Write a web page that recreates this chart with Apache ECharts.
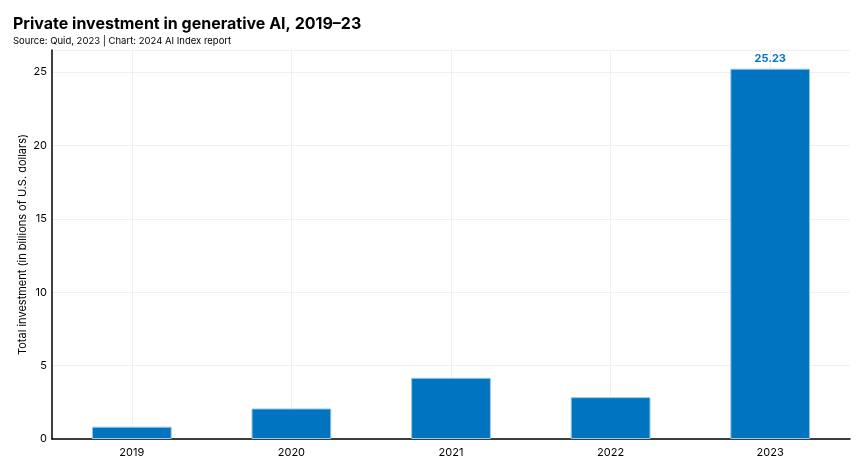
<!DOCTYPE html>
<html><head><meta charset="utf-8">
<script src="https://cdn.jsdelivr.net/npm/echarts@6/dist/echarts.min.js"></script>
<style>html,body{margin:0;padding:0;background:#fff}#c{width:866px;height:463px}</style>
</head><body><div id="c"></div>
<script>
const categories = ['2019', '2020', '2021', '2022', '2023'];
const investment = [0.84, 2.08, 4.17, 2.85, 25.23];
const yTicks = [0, 5, 10, 15, 20, 25];
const labelled = ['2023'];

const chart = echarts.init(document.getElementById('c'), null, {renderer: 'canvas'});
const font = 'Inter, "Liberation Sans", sans-serif';
chart.setOption({
  animation: false,
  textStyle: {fontFamily: font},
  title: {
    text: 'Private investment in generative AI, 2019–23',
    subtext: 'Source: Quid, 2023 | Chart: 2024 AI Index report',
    left: 8, top: 11, itemGap: 4,
    textStyle: {fontFamily: font, fontSize: 16, fontWeight: 'bold', color: '#000'},
    subtextStyle: {fontFamily: font, fontSize: 9.5, color: '#000'}
  },
  grid: {left: 52, right: 16, top: 50, bottom: 24, containLabel: false, outerBoundsMode: 'none'},
  xAxis: {
    type: 'category', data: categories,
    axisLine: {lineStyle: {color: '#000', width: 1.5}},
    axisTick: {show: false},
    axisLabel: {color: '#000', fontSize: 11, margin: 8},
    splitLine: {show: false}
  },
  yAxis: {
    type: 'value', min: 0, max: 26.5, interval: 5,
    name: 'Total investment (in billions of U.S. dollars)',
    nameLocation: 'middle', nameGap: 24, nameMoveOverlap: false,
    nameTextStyle: {color: '#000', fontSize: 11},
    axisLine: {show: true, lineStyle: {color: '#000', width: 1.5}},
    axisTick: {show: false},
    axisLabel: {color: '#000', fontSize: 11, margin: 5,
      formatter: v => yTicks.includes(v) ? String(v) : ''},
    splitLine: {lineStyle: {color: '#f0f0f0'}}
  },
  series: [{
    type: 'line', data: [], z: 0, silent: true,
    markLine: {
      z: 0, silent: true, symbol: 'none', label: {show: false},
      lineStyle: {color: '#f0f0f0', type: 'solid', width: 1},
      data: categories.map(c => ({xAxis: c}))
    }
  }, {
    type: 'bar', data: investment, barWidth: '50%', z: 3,
    itemStyle: {color: '#0074BF', borderColor: '#9cc8ea', borderWidth: 1},
    label: {show: true, position: 'top', distance: 4, color: '#0074BF', fontSize: 11, fontWeight: 'bold',
      formatter: p => labelled.includes(p.name) ? p.value.toFixed(2) : ''}
  }]
});
</script></body></html>
